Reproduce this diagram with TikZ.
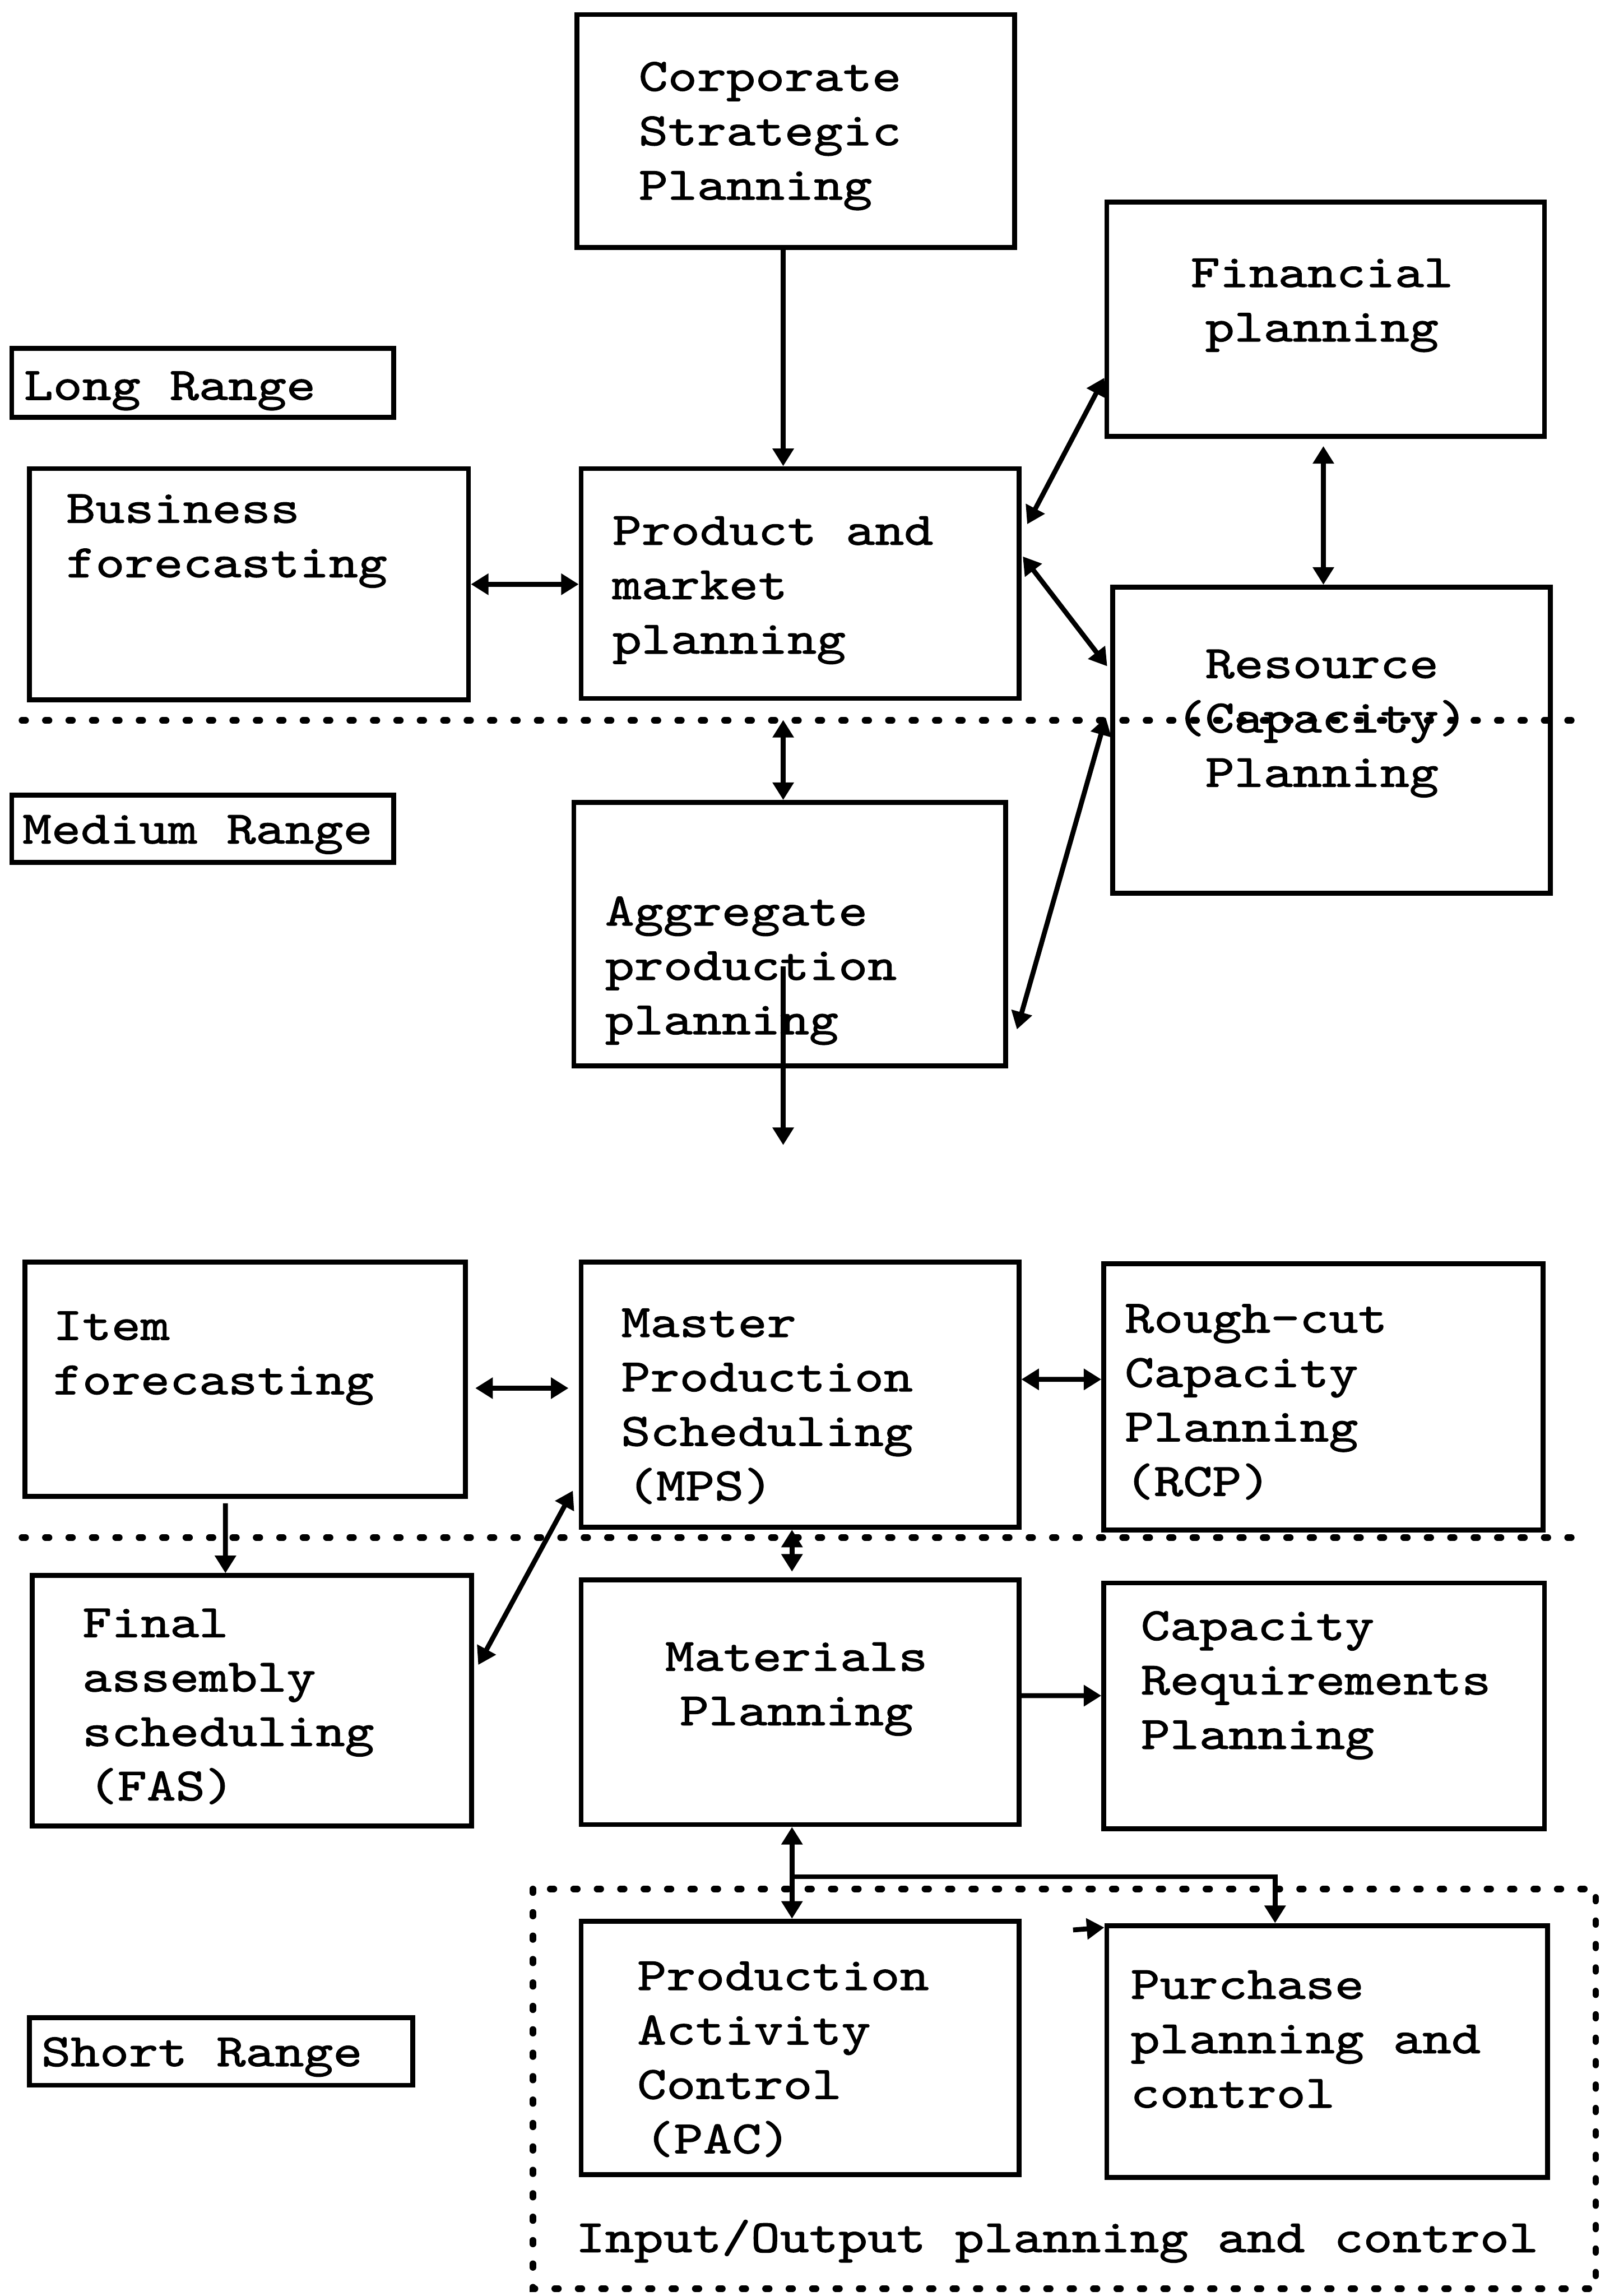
\documentclass[tikz,border=0pt]{standalone}
\usepackage{fontspec}
\newfontfamily\diagfont[FakeBold=1.5,FakeStretch=1.2]{lmmono10-regular.otf}
\usetikzlibrary{arrows.meta,fit}

% stacked text lines, baseline on the first line
\newcommand{\stackL}[1]{\begin{tabular}[t]{@{}l@{}}#1\end{tabular}}
\newcommand{\stackC}[1]{\begin{tabular}[t]{@{}c@{}}#1\end{tabular}}

\begin{document}
\begin{tikzpicture}[x=0.02cm, y=-0.02cm,
  box/.style={draw, line width=1.9pt, inner sep=0pt, rectangle},
  lbl/.style={inner sep=0pt, anchor=base west,
    font=\diagfont\fontsize{18pt}{21.15pt}\selectfont},
  lblc/.style={lbl, anchor=base},
  arr/.style={line width=1.9pt, -{Triangle[length=0.24cm,width=0.28cm]}},
  darr/.style={line width=1.9pt, {Triangle[length=0.24cm,width=0.28cm]}-{Triangle[length=0.24cm,width=0.28cm]}},
  sep/.style={line width=0.09cm, line cap=round, dash pattern=on 0.05cm off 0.27cm}]

\useasboundingbox (0,0) rectangle (1096,1568);

% boxes
\node[box, fit={(394,10) (693,169)}]    (corp) {};
\node[box, fit={(756,138) (1055,298)}]  (fin) {};
\node[box, fit={(8,238) (269,285)}]     (longr) {};
\node[box, fit={(20,320) (320,478)}]    (bus) {};
\node[box, fit={(397,320) (696,477)}]   (prod) {};
\node[box, fit={(760,401) (1059,610)}]  (res) {};
\node[box, fit={(8,543) (269,589)}]     (medr) {};
\node[box, fit={(392,548) (687,728)}]   (agg) {};
\node[box, fit={(17,862) (318,1022)}]   (item) {};
\node[box, fit={(397,862) (696,1043)}]  (mps) {};
\node[box, fit={(754,863) (1054,1045)}] (rcp) {};
\node[box, fit={(22,1076) (322,1247)}]  (fas) {};
\node[box, fit={(397,1079) (696,1246)}] (mat) {};
\node[box, fit={(754,1081) (1055,1249)}] (crp) {};
\node[box, fit={(397,1312) (696,1485)}] (pac) {};
\node[box, fit={(756,1315) (1057,1487)}] (pur) {};
\node[box, fit={(20,1378) (282,1424)}]  (shortr) {};

% texts
\node[lbl]  (corpT)   at (436,62)   {\stackL{Corporate\\Strategic\\Planning}};
\node[lblc] (finT)    at (903,196)  {\stackC{Financial\\planning}};
\node[lbl]  (longrT)  at (16,273)   {Long Range};
\node[lbl]  (busT)    at (45,357)   {\stackL{Business\\forecasting}};
\node[lbl]  (prodT)   at (418,372)  {\stackL{Product and\\market\\planning}};
\node[lblc] (resT)    at (903,463)  {\stackC{Resource\\(Capacity)\\Planning}};
\node[lbl]  (medrT)   at (15,576)   {Medium Range};
\node[lbl]  (aggT)    at (413,632)  {\stackL{Aggregate\\production\\planning}};
\node[lbl]  (itemT)   at (36,915)   {\stackL{Item\\forecasting}};
\node[lbl]  (mpsT)    at (424,913)  {\stackL{Master\\Production\\Scheduling\\\kern0.08cm(MPS)}};
\node[lbl]  (rcpT)    at (768,910)  {\stackL{Rough-cut\\Capacity\\Planning\\(RCP)}};
\node[lbl]  (fasT)    at (56,1118)  {\stackL{Final\\assembly\\scheduling\\\kern0.08cm(FAS)}};
\node[lblc] (matT)    at (544,1141) {\stackC{Materials\\Planning}};
\node[lbl]  (crpT)    at (779,1120) {\stackL{Capacity\\Requirements\\Planning}};
\node[lbl]  (pacT)    at (435,1359) {\stackL{Production\\Activity\\Control\\\kern0.1cm(PAC)}};
\node[lbl]  (purT)    at (772,1365) {\stackL{Purchase\\planning and\\control}};
\node[lbl]  (shortrT) at (28,1411)  {Short Range};
\node[lbl]  (ioT)     at (393,1538) {Input/Output planning and control};

% range separators and the input/output frame
\draw[sep] (15,492) -- (1075,492);
\draw[sep] (15,1050) -- (1075,1050);
\draw[sep] (364,1290) rectangle (1090,1563);

% connectors
\draw[arr]  ([xshift=-0.17cm]corp.south) -- ([xshift=-0.23cm]prod.north);
\draw[darr] (bus.east) -- (bus.east -| prod.west);
\draw[darr] ([xshift=0.08cm,yshift=0.81cm]prod.east) -- ([yshift=-0.8cm]fin.west);
\draw[darr] ([xshift=0.02cm,yshift=0.37cm]prod.east) -- ([xshift=-0.04cm,yshift=1.01cm]res.west);
\draw[darr] ([xshift=-0.03cm,yshift=-0.1cm]fin.south) -- ([xshift=-0.11cm]res.north);
\draw[darr] ([xshift=-0.23cm,yshift=-0.26cm]prod.south) -- ([xshift=-0.09cm]agg.north);
\draw[darr] ([xshift=-0.06cm,yshift=0.31cm]res.west) -- ([xshift=0.12cm,yshift=-1.3cm]agg.east);
\coordinate (aggout) at (535,782);
\draw[arr]  ([xshift=-0.09cm,yshift=-0.44cm]agg.center) -- (aggout);
\draw[darr] ([xshift=0.1cm,yshift=-0.12cm]item.east) -- ([xshift=-0.14cm,yshift=0.09cm]mps.west);
\draw[darr] ([yshift=0.21cm]mps.east) -- ([yshift=0.24cm]rcp.west);
\draw[arr]  ([xshift=-0.27cm,yshift=-0.06cm]item.south) -- ([xshift=-0.36cm]fas.north);
\draw[darr] ([xshift=0.06cm,yshift=0.49cm]fas.east) -- ([xshift=-0.08cm,yshift=-1.31cm]mps.west);
\draw[darr] ([xshift=-0.11cm]mps.south) -- ([xshift=-0.11cm,yshift=0.08cm]mat.north);
\draw[arr]  ([yshift=0.09cm]mat.east) -- ([yshift=0.14cm]crp.west);
\draw[darr] ([xshift=-0.11cm]mat.south) -- ([xshift=-0.11cm]pac.north);
\draw[arr]  ([xshift=-0.11cm,yshift=-0.68cm]mat.south) -| ([xshift=-0.71cm]pur.north);
\coordinate (stub) at (733,1318);
\draw[arr]  (stub) -- ([yshift=-0.06cm]pur.north west);

\end{tikzpicture}
\end{document}
